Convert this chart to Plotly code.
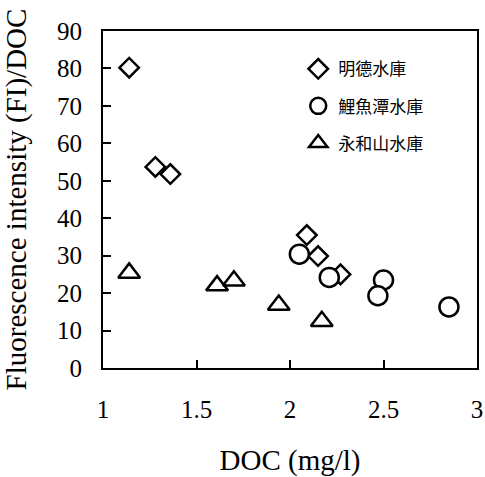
import plotly.graph_objects as go

# DOC (mg/l) and fluorescence intensity per DOC for each reservoir
mingde_doc = [1.14, 1.28, 1.36, 2.09, 2.15, 2.27]
mingde_fi = [80.2, 53.7, 51.8, 35.5, 29.9, 25.0]

liyutan_doc = [2.05, 2.21, 2.50, 2.47, 2.85]
liyutan_fi = [30.4, 24.2, 23.5, 19.3, 16.3]

yonghe_doc = [1.14, 1.61, 1.70, 1.94, 2.17]
yonghe_fi = [25.4, 22.0, 23.3, 16.8, 12.5]

series_names = ["明德水庫", "鯉魚潭水庫", "永和山水庫"]
x_ticks = [1, 1.5, 2, 2.5, 3]
y_ticks = list(range(0, 91, 10))

serif = "Liberation Serif, Times New Roman, serif"
cjk = "Noto Sans CJK TC, sans-serif"

fig = go.Figure()

def add_series(xs, ys, name, symbol, size):
    fig.add_trace(go.Scatter(
        x=xs, y=ys, mode="markers", name=name, legendgroup=name,
        marker=dict(symbol=symbol, size=size, color="white",
                    line=dict(color="black", width=2.5)),
    ))

add_series(mingde_doc, mingde_fi, series_names[0], "diamond", 15)
add_series(liyutan_doc, liyutan_fi, series_names[1], "circle", 19)
add_series(yonghe_doc, yonghe_fi, series_names[2], "triangle-up", 19)

axis_common = dict(
    showline=True, linecolor="black", linewidth=2, mirror=True,
    ticks="inside", ticklen=8, tickwidth=2, tickcolor="black",
    showgrid=False, zeroline=False, automargin=False,
    tickfont=dict(family=serif, size=25, color="black"),
)

fig.update_xaxes(range=[1, 3], tickvals=x_ticks, ticktext=[f"{t:g}" for t in x_ticks],
                 ticklabelstandoff=18,
                 title=dict(text="DOC (mg/l)", standoff=33,
                            font=dict(family=serif, size=29, color="black")),
                 **axis_common)
fig.update_yaxes(range=[0, 90], tickvals=y_ticks, ticklabelstandoff=14,
                 title=dict(text="Fluorescence intensity (FI)/DOC", standoff=25,
                            font=dict(family=serif, size=29, color="black")),
                 **axis_common)

fig.update_layout(
    width=485, height=477,
    margin=dict(l=103, r=8, t=31, b=109),
    paper_bgcolor="white", plot_bgcolor="white",
    showlegend=True,
    legend=dict(x=0.522, y=0.94, xanchor="left", yanchor="top",
                bgcolor="rgba(0,0,0,0)", borderwidth=0,
                font=dict(family=cjk, size=17, color="black"),
                tracegroupgap=12, itemwidth=30),
)

fig.write_html("out.html")
